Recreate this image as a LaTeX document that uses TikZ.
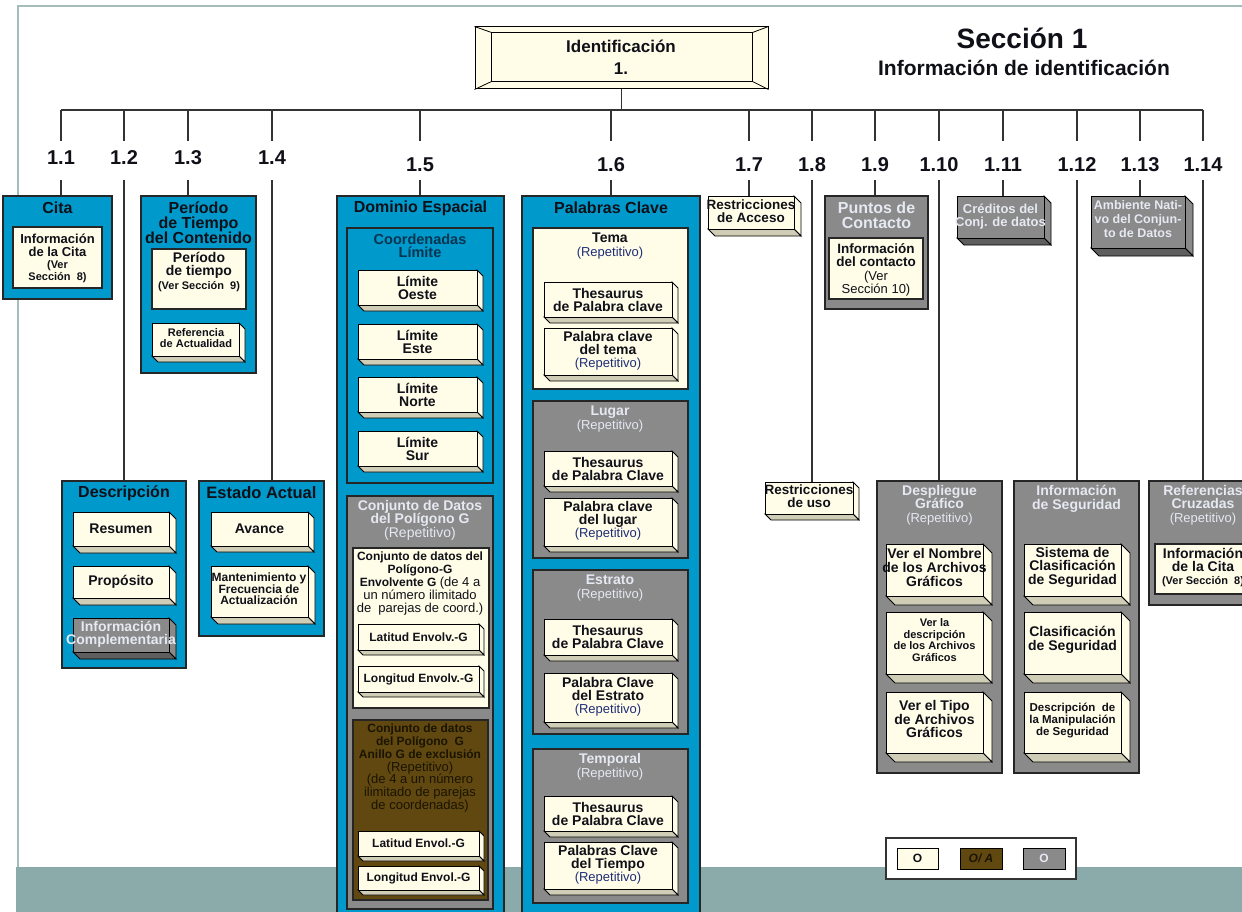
\documentclass[tikz,border=0pt]{standalone}
\usepackage{fontspec}
\setmainfont{Liberation Sans}
\usetikzlibrary{calc}

\definecolor{blu}{HTML}{0099CC}
\definecolor{crm}{HTML}{FFFDE8}
\definecolor{gry}{HTML}{8A8A8A}
\definecolor{gbase}{HTML}{5E5E5E}
\definecolor{cbase}{HTML}{CFCDB6}
\definecolor{brn}{HTML}{614810}
\definecolor{band}{HTML}{8AABAA}
\definecolor{framec}{HTML}{A3BDBD}
\definecolor{ink}{HTML}{101018}
\definecolor{lite}{HTML}{E6E8F2}
\definecolor{navy}{HTML}{1E2D78}
\definecolor{coordc}{HTML}{083550}
\definecolor{dkbrn}{HTML}{1A1400}

\newcommand\fs[2]{\fontsize{#1}{#2}\selectfont}

% box given by its corners: style, name, x1, y1, x2, y2
\newcommand\place[6]{%
  \pgfmathsetmacro\pcx{(#3+#5)/2}%
  \pgfmathsetmacro\pcy{(#4+#6)/2}%
  \pgfmathsetmacro\pw{#5-#3}%
  \pgfmathsetmacro\ph{#6-#4}%
  \node[#1,inner sep=0pt,minimum width=\pw pt,minimum height=\ph pt] (#2) at (\pcx,\pcy) {};}

% extruded box: front fill, base fill, name, x1, y1, x2, y2, depth
\newcommand\solid[8]{%
  \filldraw[rim,fill=#1] (#6,#5) -- ({#6+#8},{#5+#8}) -- ({#6+#8},{#7+#8}) -- (#6,#7) -- cycle;
  \filldraw[rim,fill=#2] (#4,#7) -- (#6,#7) -- ({#6+#8},{#7+#8}) -- ({#4+#8},{#7+#8}) -- cycle;
  \place{rim,fill=#1}{#3}{#4}{#5}{#6}{#7}}

\tikzset{
  rim/.style={draw=black,line width=0.8pt},
  panel/.style={draw=black!85,line width=1.2pt},
  bluepanel/.style={panel,fill=blu},
  greypanel/.style={panel,fill=gry},
  creampanel/.style={panel,fill=crm},
  brownpanel/.style={panel,fill=brn},
  txt/.style={inner sep=0pt,align=center,text=ink},
  ttl/.style={txt,font=\fs{16}{15}\bfseries},
  lttl/.style={txt,text=lite,font=\fs{14}{13.5}\bfseries},
  conn/.style={draw=black!80,line width=1.1pt},
  secnum/.style={inner sep=0pt,font=\fs{20}{20}\bfseries,text=ink,anchor=base,
                 text height=31pt,text depth=8pt},
  secnumhi/.style={secnum,text height=24pt,text depth=15pt},
}

\begin{document}
\begin{tikzpicture}[x=1pt,y=-1pt]
\useasboundingbox (0,0) rectangle (1242,912);
\fill[white] (0,0) rectangle (1242,912);

% page frame and bottom band
\fill[band] (16,867) rectangle (1242,912);
\draw[framec,line width=1.5pt] (18,867) -- (18,6) -- (1242,6);

% ---- root box ----
\place{rim,fill=crm,line width=1pt}{id}{475}{27}{768}{89}
\coordinate (idnw) at ($(id.north west)+(17,6)$);
\coordinate (idse) at ($(id.south east)+(-16,-8)$);
\coordinate (idne) at (idse |- idnw);
\coordinate (idsw) at (idnw |- idse);
\draw[rim] (idnw) rectangle (idse);
\draw[rim] (id.north west) -- (idnw) (id.south west) -- (idsw)
           (id.north east) -- (idne) (id.south east) -- (idse);
\node[txt,font=\fs{17}{22}\bfseries] (id-t) at (621,57) {Identificación\\1.};

% heading
\node[txt,font=\fs{28}{28}\bfseries] (head1) at (1022,38) {Sección 1};
\node[txt,font=\fs{21}{21}\bfseries] (head2) at (1024,68) {Información de identificación};

% ---- section numbers ----
\node[secnumhi] (n11)  at (61,165)  {1.1};
\node[secnumhi] (n12)  at (124,165) {1.2};
\node[secnumhi] (n13)  at (188,165) {1.3};
\node[secnumhi] (n14)  at (272,165) {1.4};
\node[secnum]   (n15)  at (420,172) {1.5};
\node[secnum]   (n16)  at (611,172) {1.6};
\node[secnum]   (n17)  at (749,172) {1.7};
\node[secnum]   (n18)  at (812,172) {1.8};
\node[secnum]   (n19)  at (875,172) {1.9};
\node[secnum]   (n110) at (939,172) {1.10};
\node[secnum]   (n111) at (1003,172) {1.11};
\node[secnum]   (n112) at (1077,172) {1.12};
\node[secnum]   (n113) at (1140,172) {1.13};
\node[secnum]   (n114) at (1203,172) {1.14};

% bus
\coordinate (busL) at (61,110);
\coordinate (busR) at (1203,110);
\draw[conn] (busL) -- (busR);
\draw[conn] (id.south) -- (id.south |- busL);
\foreach \n in {n11,n12,n13,n14,n15,n16,n17,n18,n19,n110,n111,n112,n113,n114}
  \draw[conn] (\n.north |- busL) -- (\n.north);

% ---- 1.1 Cita ----
\place{bluepanel}{cita}{3}{196}{112}{299}
\node[ttl] (cita-t) at (57.5,208) {Cita};
\place{creampanel}{citainfo}{13}{227}{102}{288}
\node[txt,font=\fs{13}{13}\bfseries] (citainfo-t) at (57.5,258)
  {Información\\de la Cita\\[-1pt]\fs{11}{11}(Ver\\[-1pt]\fs{11}{11}Sección~ 8)};

% ---- 1.3 Periodo ----
\place{bluepanel}{per}{141}{196}{256}{373}
\node[ttl] (per-t) at (198.5,223) {Período\\de Tiempo\\del Contenido};
\place{creampanel}{perinfo}{152}{249}{246}{309}
\node[txt,font=\fs{14}{13.5}\bfseries] (perinfo-t) at (199,272)
  {Período\\de tiempo\\\fs{11}{11}(Ver Sección~ 9)};
\solid{crm}{cbase}{refact}{152}{323}{239}{356}{6}
\node[txt,font=\fs{11}{11}\bfseries] (refact-t) at (196,338) {Referencia\\de Actualidad};

% ---- 1.2 Descripcion ----
\place{bluepanel}{desc}{62}{481}{186}{668}
\node[ttl] (desc-t) at (124,493) {Descripción};
\solid{crm}{cbase}{resumen}{73}{512}{169}{546}{7}
\node[txt,font=\fs{14}{14}\bfseries] (resumen-t) at (resumen) {Resumen};
\solid{crm}{cbase}{proposito}{73}{566}{169}{598}{7}
\node[txt,font=\fs{14}{14}\bfseries] (proposito-t) at (proposito) {Propósito};
\solid{gry}{gbase}{infocomp}{73}{618}{169}{652}{7}
\node[txt,text=lite,font=\fs{14}{13}\bfseries] (infocomp-t) at (121,634) {Información\\Complementaria};

% ---- 1.4 Estado Actual ----
\place{bluepanel}{estado}{199}{481}{324}{636}
\node[ttl,font=\fs{16.5}{15}\bfseries] (estado-t) at (261.5,493) {Estado Actual};
\solid{crm}{cbase}{avance}{211}{512}{308}{546}{6}
\node[txt,font=\fs{14}{14}\bfseries] (avance-t) at (avance) {Avance};
\solid{crm}{cbase}{mant}{211}{566}{308}{617}{7}
\node[txt,font=\fs{12}{11.5}\bfseries] (mant-t) at (259,589) {Mantenimiento y\\Frecuencia de\\Actualización};

% ---- 1.5 Dominio Espacial ----
\place{bluepanel}{dom}{337}{196}{504}{925}
\node[ttl] (dom-t) at (420.5,208) {Dominio Espacial};
\place{bluepanel}{coord}{347}{228}{493}{483}
\node[txt,text=coordc,font=\fs{14.5}{13}\bfseries] (coord-t) at (420,246) {Coordenadas\\Límite};
\solid{crm}{cbase}{oeste}{358}{270}{477}{305}{6}
\node[txt,font=\fs{14}{13}\bfseries] (oeste-t) at (oeste) {Límite\\Oeste};
\solid{crm}{cbase}{este}{358}{324}{477}{359}{6}
\node[txt,font=\fs{14}{13}\bfseries] (este-t) at (este) {Límite\\Este};
\solid{crm}{cbase}{norte}{358}{377}{477}{412}{6}
\node[txt,font=\fs{14}{13}\bfseries] (norte-t) at (norte) {Límite\\Norte};
\solid{crm}{cbase}{sur}{358}{431}{477}{466}{6}
\node[txt,font=\fs{14}{13}\bfseries] (sur-t) at (sur) {Límite\\Sur};

\place{greypanel}{polg}{347}{496}{493}{909}
\node[lttl] (polg-t) at (420,520) {Conjunto de Datos\\del Polígono G\\\mdseries(Repetitivo)};
\place{creampanel}{envg}{353}{548}{489}{708}
\node[txt,font=\fs{12}{12.8}\bfseries] (envg-t) at (420,583.5)
  {Conjunto de datos del\\Polígono-G\\Envolvente G \mdseries\fs{13}{13}(de 4 a\\
   \mdseries\fs{13}{13}un número ilimitado\\\mdseries\fs{13}{13}de~ parejas de coord.)};
\solid{crm}{cbase}{latenv}{358}{624}{479}{650}{5}
\node[txt,font=\fs{12}{12}\bfseries] (latenv-t) at (latenv) {Latitud Envolv.-G};
\solid{crm}{cbase}{lonenv}{358}{666}{479}{692}{5}
\node[txt,font=\fs{12}{12}\bfseries] (lonenv-t) at (lonenv) {Longitud Envolv.-G};

\place{brownpanel}{anillo}{353}{720}{488}{900}
\node[txt,text=dkbrn,font=\fs{12}{12.9}\bfseries] (anillo-t) at (420,768)
  {Conjunto de datos\\del Polígono~ G\\Anillo G de exclusión\\\mdseries\fs{13}{13}(Repetitivo)\\
   \mdseries\fs{13}{13}(de 4 a un número\\\mdseries\fs{13}{13}ilimitado de parejas\\\mdseries\fs{13}{13}de coordenadas)};
\solid{crm}{cbase}{latani}{358}{831}{479}{856}{5}
\node[txt,font=\fs{12}{12}\bfseries] (latani-t) at (latani) {Latitud Envol.-G};
\solid{crm}{cbase}{lonani}{358}{866}{479}{890}{5}
\node[txt,font=\fs{12}{12}\bfseries] (lonani-t) at (lonani) {Longitud Envol.-G};

% ---- 1.6 Palabras Clave ----
\place{bluepanel}{pal}{522}{196}{700}{925}
\node[ttl] (pal-t) at (611,208) {Palabras Clave};

\place{creampanel}{tema}{533}{228}{688}{389}
\node[txt,font=\fs{14}{14}\bfseries] (tema-t) at (610,246) {Tema\\\mdseries\fs{13}{13}\color{navy}(Repetitivo)};
\solid{crm}{cbase}{thtema}{544}{282}{672}{317}{6}
\node[txt,font=\fs{14}{13}\bfseries] (thtema-t) at (thtema) {Thesaurus\\de Palabra clave};
\solid{crm}{cbase}{pctema}{544}{328}{672}{375}{6}
\node[txt,font=\fs{14}{13}\bfseries] (pctema-t) at (608,351) {Palabra clave\\del tema\\\mdseries\fs{13}{13}\color{navy}(Repetitivo)};

\place{greypanel}{lugar}{533}{401}{688}{558}
\node[lttl] (lugar-t) at (610,419) {Lugar\\\mdseries\fs{13}{13}(Repetitivo)};
\solid{crm}{cbase}{thlugar}{544}{451}{672}{486}{6}
\node[txt,font=\fs{14}{13}\bfseries] (thlugar-t) at (thlugar) {Thesaurus\\de Palabra Clave};
\solid{crm}{cbase}{pclugar}{544}{498}{672}{546}{6}
\node[txt,font=\fs{14}{13}\bfseries] (pclugar-t) at (608,521) {Palabra clave\\del lugar\\\mdseries\fs{13}{13}\color{navy}(Repetitivo)};

\place{greypanel}{estrato}{533}{570}{688}{734}
\node[lttl] (estrato-t) at (610,588) {Estrato\\\mdseries\fs{13}{13}(Repetitivo)};
\solid{crm}{cbase}{thestr}{544}{619}{672}{655}{6}
\node[txt,font=\fs{14}{13}\bfseries] (thestr-t) at (thestr) {Thesaurus\\de Palabra Clave};
\solid{crm}{cbase}{pcestr}{544}{673}{672}{722}{6}
\node[txt,font=\fs{14}{13}\bfseries] (pcestr-t) at (608,697) {Palabra Clave\\del Estrato\\\mdseries\fs{13}{13}\color{navy}(Repetitivo)};

\place{greypanel}{temporal}{533}{749}{688}{903}
\node[lttl] (temporal-t) at (610,767) {Temporal\\\mdseries\fs{13}{13}(Repetitivo)};
\solid{crm}{cbase}{thtemp}{544}{796}{672}{831}{6}
\node[txt,font=\fs{14}{13}\bfseries] (thtemp-t) at (thtemp) {Thesaurus\\de Palabra Clave};
\solid{crm}{cbase}{pctemp}{544}{842}{672}{889}{6}
\node[txt,font=\fs{14}{13}\bfseries] (pctemp-t) at (608,865) {Palabras Clave\\del Tiempo\\\mdseries\fs{13}{13}\color{navy}(Repetitivo)};

% ---- 1.7 to 1.14 ----
\solid{crm}{cbase}{racc}{708}{196}{794}{229}{7}
\node[txt,font=\fs{13.5}{13}\bfseries] (racc-t) at (751,211) {Restricciones\\de Acceso};

\solid{crm}{cbase}{ruso}{765}{482}{853}{514}{6}
\node[txt,font=\fs{13.5}{13.5}\bfseries] (ruso-t) at (809,496) {Restricciones\\de uso};

\place{greypanel}{pcont}{825}{196}{928}{309}
\node[lttl,font=\fs{16}{15}\bfseries] (pcont-t) at (876.5,215) {Puntos de\\Contacto};
\place{creampanel}{icont}{829}{238}{923}{299}
\node[txt,font=\fs{13.5}{13.3}\bfseries] (icont-t) at (876,270)
  {Información\\del contacto\\\mdseries\fs{13}{13}(Ver\\\mdseries\fs{13}{13}Sección 10)};

\solid{gry}{gbase}{cred}{957}{196}{1044}{238}{7}
\node[txt,text=lite,font=\fs{13}{13}\bfseries] (cred-t) at (1000.5,217) {Créditos del\\Conj. de datos};

\solid{gry}{gbase}{amb}{1091}{196}{1185}{248}{8}
\node[txt,text=lite,font=\fs{12.5}{14}\bfseries] (amb-t) at (1138,219) {Ambiente Nati-\\vo del Conjun-\\to de Datos};

\place{greypanel}{despl}{877}{481}{1002}{773}
\node[lttl] (despl-t) at (939.5,505) {Despliegue\\Gráfico\\\mdseries\fs{13}{13}(Repetitivo)};
\solid{crm}{cbase}{vnom}{886}{544}{983}{596}{9}
\node[txt,font=\fs{14}{14}\bfseries] (vnom-t) at (934.5,567) {Ver el Nombre\\de los Archivos\\Gráficos};
\solid{crm}{cbase}{vdesc}{886}{612}{983}{674}{9}
\node[txt,font=\fs{11}{11.5}\bfseries] (vdesc-t) at (934.5,640) {Ver la\\descripción\\de los Archivos\\Gráficos};
\solid{crm}{cbase}{vtipo}{886}{692}{983}{753}{9}
\node[txt,font=\fs{14}{13.5}\bfseries] (vtipo-t) at (934.5,719) {Ver el Tipo\\de Archivos\\Gráficos};

\place{greypanel}{seg}{1014}{481}{1139}{773}
\node[lttl] (seg-t) at (1076.5,499) {Información\\de Seguridad};
\solid{crm}{cbase}{sclas}{1024}{544}{1121}{596}{9}
\node[txt,font=\fs{14}{13.5}\bfseries] (sclas-t) at (1072.5,567) {Sistema de\\Clasificación\\de Seguridad};
\solid{crm}{cbase}{clas}{1024}{612}{1121}{674}{9}
\node[txt,font=\fs{14}{13.5}\bfseries] (clas-t) at (1072.5,640) {Clasificación\\de Seguridad};
\solid{crm}{cbase}{manip}{1024}{692}{1121}{753}{9}
\node[txt,font=\fs{11.5}{12}\bfseries] (manip-t) at (1072.5,720) {Descripción~ de\\la Manipulación\\de Seguridad};

\place{greypanel}{ref}{1149}{481}{1257}{605}
\node[lttl] (ref-t) at (1203,505) {Referencias\\Cruzadas\\\mdseries\fs{13}{13}(Repetitivo)};
\place{creampanel}{refcita}{1155}{544}{1251}{594}
\node[txt,font=\fs{14}{13}\bfseries] (refcita-t) at (1203,568) {Información\\de la Cita\\\fs{11}{11}(Ver Sección~ 8)};

% ---- drops from the numbers to their boxes ----
\draw[conn] (n11.south) -- (n11.south |- cita.north);
\draw[conn] (n12.south) -- (n12.south |- desc.north);
\draw[conn] (n13.south) -- (n13.south |- per.north);
\draw[conn] (n14.south) -- (n14.south |- estado.north);
\draw[conn] (n15.south) -- (n15.south |- dom.north);
\draw[conn] (n16.south) -- (n16.south |- pal.north);
\draw[conn] (n17.south) -- (n17.south |- racc.north);
\draw[conn] (n18.south) -- (n18.south |- ruso.north);
\draw[conn] (n19.south) -- (n19.south |- pcont.north);
\draw[conn] (n110.south) -- (n110.south |- despl.north);
\draw[conn] (n111.south) -- (n111.south |- cred.north);
\draw[conn] (n112.south) -- (n112.south |- seg.north);
\draw[conn] (n113.south) -- (n113.south |- amb.north);
\draw[conn] (n114.south) -- (n114.south |- ref.north);

% ---- legend ----
\place{fill=white,draw=black!80,line width=1.2pt}{legend}{886}{838}{1076}{879}
\place{rim,fill=crm}{lgo}{897}{848}{938}{869}
\node[txt,font=\fs{12}{12}\bfseries] (lgo-t) at (lgo) {O};
\place{rim,fill=brn}{lgoa}{960}{848}{1002}{869}
\node[txt,text=dkbrn,font=\fs{12}{12}\bfseries\itshape] (lgoa-t) at (lgoa) {O/ A};
\place{rim,fill=gry}{lgg}{1023}{848}{1065}{869}
\node[txt,text=lite,font=\fs{12}{12}\bfseries] (lgg-t) at (lgg) {O};

\end{tikzpicture}
\end{document}
